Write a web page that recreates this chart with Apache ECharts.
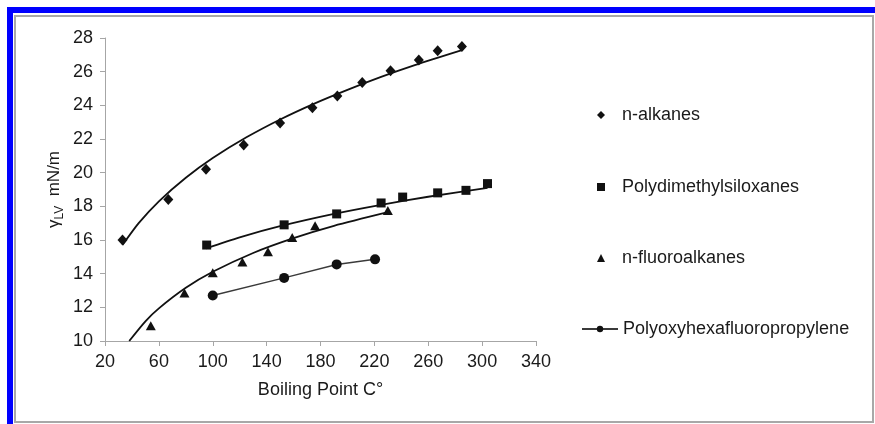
<!DOCTYPE html>
<html>
<head>
<meta charset="utf-8">
<script src="https://cdn.jsdelivr.net/npm/echarts@6/dist/echarts.min.js"></script>
<style>
  html, body { margin: 0; padding: 0; background: #fff; }
  #wrap { position: relative; width: 875px; height: 424px; overflow: hidden; }
  #chart { position: absolute; left: 0; top: 0; width: 875px; height: 424px; }
  #frameBlue { position: absolute; left: 7px; top: 7px; width: 875px; height: 424px;
    border-left: 6px solid #0000ff; border-top: 6px solid #0000ff; pointer-events: none; }
  #frameGray { position: absolute; left: 14px; top: 15px; width: 856px; height: 404px;
    border: 2px solid #a8a8a8; pointer-events: none; }
</style>
</head>
<body>
<div id="wrap">
  <div id="chart"></div>
  <div id="frameBlue"></div>
  <div id="frameGray"></div>
</div>
<script>
// Surface tension vs boiling point
const alkanesX = [33, 67, 95, 123, 150, 174, 192.5, 211, 232, 253, 267, 285];
const alkanesY = [16.0, 18.4, 20.2, 21.65, 22.95, 23.85, 24.55, 25.35, 26.05, 26.7, 27.25, 27.5];

const pdmsX = [95.5, 153, 192, 225, 241, 267, 288, 304];
const pdmsY = [15.7, 16.9, 17.55, 18.2, 18.55, 18.8, 18.95, 19.35];

const fluoroX = [54, 79, 100, 122, 141, 159, 176, 230];
const fluoroY = [10.9, 12.85, 14.05, 14.7, 15.3, 16.15, 16.85, 17.75];

const polyX = [100, 153, 192, 220.5];
const polyY = [12.7, 13.75, 14.55, 14.85];

// Trend curves
const alkanesFitX = [33, 45, 60, 80, 100, 125, 150, 175, 200, 225, 250, 285];
const alkanesFitY = [15.7, 17.0, 18.3, 19.7, 20.87, 22.1, 23.16, 24.09, 24.92, 25.69, 26.39, 27.28];

const pdmsFitX = [95, 120, 150, 190, 225, 260, 304];
const pdmsFitY = [15.5, 16.16, 16.82, 17.55, 18.09, 18.57, 19.1];

const fluoroFitX = [38, 50, 60, 80, 100, 130, 160, 190, 230];
const fluoroFitY = [10.0, 11.17, 11.94, 13.16, 14.11, 15.23, 16.11, 16.84, 17.65];

const seriesNames = ['n-alkanes', 'Polydimethylsiloxanes', 'n-fluoroalkanes', 'Polyoxyhexafluoropropylene'];

const xTicks = { min: 20, max: 340, interval: 40 };
const yTicks = { min: 10, max: 28, interval: 2 };

const pairs = (xs, ys) => xs.map((x, i) => [x, ys[i]]);

const FONT = "'Liberation Sans', Arial, sans-serif";
const INK = '#111';
const TEXT = '#1a1a1a';
const AXIS = '#a6a6a6';

const fitLine = (xs, ys) => ({
  type: 'line',
  data: pairs(xs, ys),
  showSymbol: false,
  symbol: 'none',
  smooth: 0.25,
  lineStyle: { color: INK, width: 1.8 },
  silent: true,
  z: 2
});

// Symbol-only legend entries: a small marker, text pushed right to line up
const markerLegend = (name, top) => ({
  data: [name],
  left: 592,
  top: top,
  itemWidth: 8,
  itemHeight: 8,
  selectedMode: false,
  textStyle: { fontFamily: FONT, fontSize: 18, color: TEXT, lineHeight: 20, padding: [0, 0, 0, 12] }
});

const lineLegend = (name, top) => ({
  data: [name],
  left: 576,
  top: top,
  itemWidth: 36,
  itemHeight: 8,
  selectedMode: false,
  textStyle: { fontFamily: FONT, fontSize: 18, color: TEXT, lineHeight: 20 }
});

const chart = echarts.init(document.getElementById('chart'), null, { renderer: 'canvas' });
chart.setOption({
  animation: false,
  backgroundColor: '#fff',
  grid: { left: 105, right: 339, top: 38, bottom: 83, containLabel: false },
  legend: [
    markerLegend(seriesNames[0], 100),
    markerLegend(seriesNames[1], 172),
    markerLegend(seriesNames[2], 243),
    lineLegend(seriesNames[3], 314)
  ],
  xAxis: {
    type: 'value',
    min: xTicks.min, max: xTicks.max, interval: xTicks.interval,
    name: 'Boiling Point C°',
    nameLocation: 'middle',
    nameGap: 40,
    nameTextStyle: { fontFamily: FONT, fontSize: 18, color: TEXT },
    axisLine: { show: true, lineStyle: { color: AXIS, width: 1 } },
    axisTick: { show: true, length: 5, lineStyle: { color: AXIS } },
    axisLabel: { fontFamily: FONT, fontSize: 18, color: TEXT, margin: 12 },
    splitLine: { show: false }
  },
  yAxis: {
    type: 'value',
    min: yTicks.min, max: yTicks.max, interval: yTicks.interval,
    name: '{g|γ}{s|LV}{t|  mN/m}',
    nameLocation: 'middle',
    nameGap: 42,
    nameRotate: 90,
    nameTextStyle: {
      rich: {
        g: { fontFamily: FONT, fontSize: 17, color: TEXT, verticalAlign: 'bottom' },
        s: { fontFamily: FONT, fontSize: 12, color: TEXT, verticalAlign: 'bottom', padding: [0, 0, -3, 0] },
        t: { fontFamily: FONT, fontSize: 17, color: TEXT, verticalAlign: 'bottom' }
      }
    },
    axisLine: { show: true, lineStyle: { color: AXIS, width: 1 } },
    axisTick: { show: true, length: 5, lineStyle: { color: AXIS } },
    axisLabel: { fontFamily: FONT, fontSize: 18, color: TEXT, margin: 12 },
    splitLine: { show: false }
  },
  series: [
    {
      name: seriesNames[0], type: 'scatter', data: pairs(alkanesX, alkanesY),
      symbol: 'diamond', symbolSize: [10, 11], itemStyle: { color: INK, opacity: 1 }, z: 3
    },
    {
      name: seriesNames[1], type: 'scatter', data: pairs(pdmsX, pdmsY),
      symbol: 'rect', symbolSize: 9, itemStyle: { color: INK, opacity: 1 }, z: 3
    },
    {
      name: seriesNames[2], type: 'scatter', data: pairs(fluoroX, fluoroY),
      symbol: 'triangle', symbolSize: [10, 9], itemStyle: { color: INK, opacity: 1 }, z: 3
    },
    {
      name: seriesNames[3], type: 'line', data: pairs(polyX, polyY),
      symbol: 'circle', symbolSize: 10, showSymbol: true,
      itemStyle: { color: INK, borderWidth: 0, opacity: 1 },
      lineStyle: { color: '#3a3a3a', width: 1.5 }, z: 3
    },
    fitLine(alkanesFitX, alkanesFitY),
    fitLine(pdmsFitX, pdmsFitY),
    fitLine(fluoroFitX, fluoroFitY)
  ]
});
</script>
</body>
</html>
